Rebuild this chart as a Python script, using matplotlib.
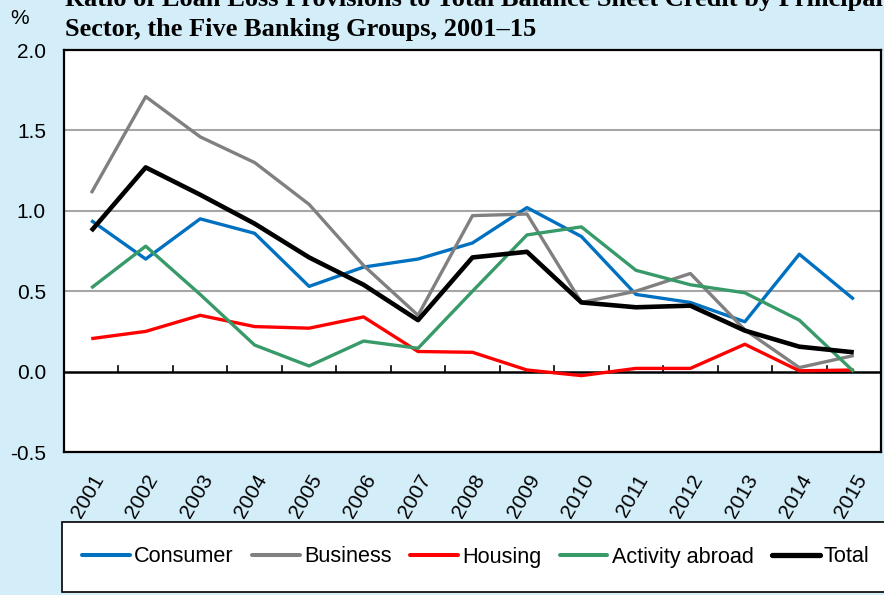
import matplotlib
matplotlib.use("Agg")
import matplotlib.pyplot as plt
from matplotlib.patches import Rectangle
from matplotlib.lines import Line2D

years = ["2001", "2002", "2003", "2004", "2005", "2006", "2007", "2008",
         "2009", "2010", "2011", "2012", "2013", "2014", "2015"]
consumer = [0.94, 0.70, 0.95, 0.86, 0.53, 0.65, 0.70, 0.80, 1.02, 0.84, 0.48, 0.43, 0.31, 0.73, 0.45]
business = [1.11, 1.71, 1.46, 1.30, 1.04, 0.66, 0.35, 0.97, 0.98, 0.43, 0.50, 0.61, 0.26, 0.025, 0.10]
housing = [0.205, 0.25, 0.35, 0.28, 0.27, 0.34, 0.125, 0.12, 0.01, -0.025, 0.02, 0.02, 0.17, 0.005, 0.01]
abroad = [0.52, 0.78, 0.48, 0.165, 0.035, 0.19, 0.145, 0.50, 0.85, 0.90, 0.63, 0.54, 0.49, 0.32, 0.0]
total = [0.875, 1.27, 1.10, 0.92, 0.71, 0.54, 0.32, 0.71, 0.745, 0.43, 0.40, 0.41, 0.255, 0.155, 0.12]

series = [
    ("Consumer", consumer, "#0070C0", 2.4),
    ("Business", business, "#808080", 2.4),
    ("Housing", housing, "#FF0000", 2.4),
    ("Activity abroad", abroad, "#379A68", 2.4),
    ("Total", total, "#000000", 3.3),
]

bg = "#D4EEF9"
W, H = 884, 595
fig = plt.figure(figsize=(W / 100, H / 100), dpi=100, facecolor=bg)
ax = fig.add_axes([64 / W, 1 - 452 / H, (881 - 64) / W, (452 - 50) / H])
ax.set_facecolor("white")

x = list(range(len(years)))
for yv in [0.5, 1.0, 1.5]:
    ax.axhline(yv, color="#A6A6A6", lw=1.5, zorder=1)
ax.axhline(0, color="black", lw=1.8, zorder=4)
for k in range(len(years) - 1):
    ax.plot([k + 0.5, k + 0.5], [0, 0.035], color="black", lw=1.2, zorder=4)

handles = []
for name, vals, col, lw in series:
    ax.plot(x, vals, color=col, lw=lw, zorder=5, solid_capstyle="butt")
    handles.append(Line2D([], [], color=col, lw=lw + 0.5, solid_capstyle="round"))

ax.set_xlim(-0.5, len(years) - 0.5)
ax.set_ylim(-0.5, 2.0)
ax.set_yticks([-0.5, 0.0, 0.5, 1.0, 1.5, 2.0])
ax.set_yticklabels(["-0.5", "0.0", "0.5", "1.0", "1.5", "2.0"])
ax.set_xticks(x)
ax.set_xticklabels(years, rotation=60, ha="right", rotation_mode="anchor")
ax.tick_params(axis="both", length=0, labelsize=15)
ax.tick_params(axis="y", pad=13)
ax.tick_params(axis="x", pad=14)
for lab in ax.get_xticklabels() + ax.get_yticklabels():
    lab.set_fontfamily("Liberation Sans")
for sp in ax.spines.values():
    sp.set_color("black")
    sp.set_linewidth(1.6)

fig.text(10 / W, 1 - 18 / H, "%", fontsize=15, family="Liberation Sans", va="center", ha="left")
fig.text(65 / W, 1 - 6 / H,
         "Ratio of Loan Loss Provisions to Total Balance Sheet Credit by Principal",
         fontsize=19, family="Liberation Serif", weight="bold", va="baseline", ha="left")
fig.text(65 / W, 1 - 36 / H, "Sector, the Five Banking Groups, 2001\u201315",
         fontsize=19, family="Liberation Serif", weight="bold", va="baseline", ha="left")

rect = Rectangle((62 / W, 1 - 592 / H), (W + 10 - 62) / W, 70 / H, transform=fig.transFigure,
                 facecolor="white", edgecolor="black", lw=1.2, zorder=0)
fig.patches.append(rect)
leg = fig.legend(handles, [s[0] for s in series], loc="center left",
                 bbox_to_anchor=(82 / W, 1 - 557 / H), ncol=5, frameon=False,
                 borderpad=0, borderaxespad=0, handlelength=2.2, handletextpad=0.2,
                 columnspacing=0.85, prop={"family": "Liberation Sans", "size": 15.6})

fig.savefig("out.png", dpi=100, facecolor=bg)
